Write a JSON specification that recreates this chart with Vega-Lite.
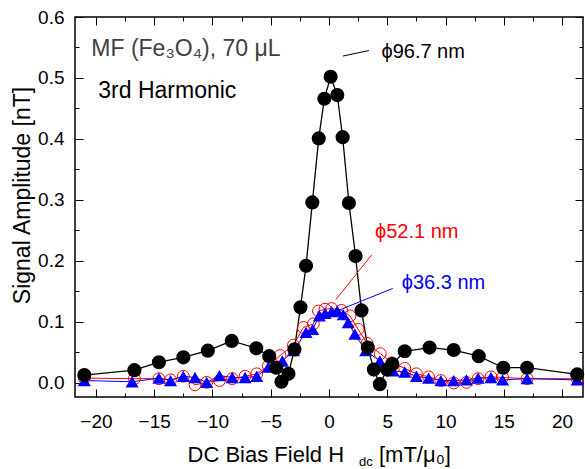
{
  "$schema": "https://vega.github.io/schema/vega-lite/v6.json",
  "width": 508,
  "height": 380,
  "autosize": {"type": "none"},
  "padding": {"left": 75, "top": 17, "right": 2, "bottom": 72},
  "background": "white",
  "config": {
    "view": {"stroke": "black", "strokeWidth": 1.5},
    "font": "Liberation Sans",
    "axis": {"grid": false, "domain": false, "tickColor": "black", "tickWidth": 1, "labelColor": "black", "labelFont": "Liberation Sans", "labelFontSize": 19, "labelOverlap": false, "labelFlush": false, "titleFont": "Liberation Sans", "titleFontWeight": "normal", "titleColor": "black"}
  },
  "datasets": {
    "pts": [
      {"series": "96.7 nm", "x": -21.0, "y": 0.013},
      {"series": "96.7 nm", "x": -16.7, "y": 0.021},
      {"series": "96.7 nm", "x": -14.6, "y": 0.034},
      {"series": "96.7 nm", "x": -12.5, "y": 0.042},
      {"series": "96.7 nm", "x": -10.4, "y": 0.053},
      {"series": "96.7 nm", "x": -8.35, "y": 0.069},
      {"series": "96.7 nm", "x": -6.24, "y": 0.057},
      {"series": "96.7 nm", "x": -5.13, "y": 0.044},
      {"series": "96.7 nm", "x": -4.53, "y": 0.025},
      {"series": "96.7 nm", "x": -4.08, "y": 0.002},
      {"series": "96.7 nm", "x": -3.48, "y": 0.015},
      {"series": "96.7 nm", "x": -2.97, "y": 0.055},
      {"series": "96.7 nm", "x": -2.45, "y": 0.124},
      {"series": "96.7 nm", "x": -1.97, "y": 0.192},
      {"series": "96.7 nm", "x": -1.43, "y": 0.296},
      {"series": "96.7 nm", "x": -0.88, "y": 0.401},
      {"series": "96.7 nm", "x": -0.4, "y": 0.466},
      {"series": "96.7 nm", "x": 0.14, "y": 0.502},
      {"series": "96.7 nm", "x": 0.71, "y": 0.472},
      {"series": "96.7 nm", "x": 1.17, "y": 0.403},
      {"series": "96.7 nm", "x": 1.71, "y": 0.295},
      {"series": "96.7 nm", "x": 2.28, "y": 0.208},
      {"series": "96.7 nm", "x": 2.79, "y": 0.119},
      {"series": "96.7 nm", "x": 3.33, "y": 0.058},
      {"series": "96.7 nm", "x": 3.85, "y": 0.022},
      {"series": "96.7 nm", "x": 4.36, "y": -0.002},
      {"series": "96.7 nm", "x": 4.99, "y": 0.022},
      {"series": "96.7 nm", "x": 5.44, "y": 0.031},
      {"series": "96.7 nm", "x": 6.5, "y": 0.052},
      {"series": "96.7 nm", "x": 8.63, "y": 0.058},
      {"series": "96.7 nm", "x": 10.7, "y": 0.054},
      {"series": "96.7 nm", "x": 12.85, "y": 0.044},
      {"series": "96.7 nm", "x": 14.96, "y": 0.025},
      {"series": "96.7 nm", "x": 17.0, "y": 0.025},
      {"series": "96.7 nm", "x": 21.3, "y": 0.014},
      {"series": "52.1 nm", "x": -21.0, "y": 0.008},
      {"series": "52.1 nm", "x": -16.7, "y": 0.007},
      {"series": "52.1 nm", "x": -14.6, "y": 0.007},
      {"series": "52.1 nm", "x": -13.6, "y": 0.005},
      {"series": "52.1 nm", "x": -12.5, "y": 0.011},
      {"series": "52.1 nm", "x": -11.5, "y": -0.003},
      {"series": "52.1 nm", "x": -10.5, "y": 0.001},
      {"series": "52.1 nm", "x": -9.4, "y": 0.004},
      {"series": "52.1 nm", "x": -8.3, "y": 0.007},
      {"series": "52.1 nm", "x": -7.2, "y": 0.011},
      {"series": "52.1 nm", "x": -6.2, "y": 0.015},
      {"series": "52.1 nm", "x": -5.2, "y": 0.028},
      {"series": "52.1 nm", "x": -4.2, "y": 0.045},
      {"series": "52.1 nm", "x": -3.05, "y": 0.062},
      {"series": "52.1 nm", "x": -2.2, "y": 0.091},
      {"series": "52.1 nm", "x": -1.34, "y": 0.097},
      {"series": "52.1 nm", "x": -0.9, "y": 0.118},
      {"series": "52.1 nm", "x": -0.34, "y": 0.121},
      {"series": "52.1 nm", "x": 0.23, "y": 0.122},
      {"series": "52.1 nm", "x": 1.08, "y": 0.119},
      {"series": "52.1 nm", "x": 1.8, "y": 0.11},
      {"series": "52.1 nm", "x": 2.5, "y": 0.088},
      {"series": "52.1 nm", "x": 3.27, "y": 0.065},
      {"series": "52.1 nm", "x": 4.4, "y": 0.048},
      {"series": "52.1 nm", "x": 5.4, "y": 0.033},
      {"series": "52.1 nm", "x": 6.5, "y": 0.024},
      {"series": "52.1 nm", "x": 7.5, "y": 0.015},
      {"series": "52.1 nm", "x": 8.55, "y": 0.01},
      {"series": "52.1 nm", "x": 9.6, "y": 0.004},
      {"series": "52.1 nm", "x": 10.7, "y": 0.0},
      {"series": "52.1 nm", "x": 11.8, "y": 0.001},
      {"series": "52.1 nm", "x": 12.8, "y": 0.007},
      {"series": "52.1 nm", "x": 13.9, "y": 0.01},
      {"series": "52.1 nm", "x": 14.9, "y": 0.009},
      {"series": "52.1 nm", "x": 17.0, "y": 0.007},
      {"series": "52.1 nm", "x": 21.3, "y": 0.007},
      {"series": "36.3 nm", "x": -21.0, "y": 0.004},
      {"series": "36.3 nm", "x": -16.9, "y": 0.002},
      {"series": "36.3 nm", "x": -14.6, "y": 0.008},
      {"series": "36.3 nm", "x": -13.6, "y": 0.004},
      {"series": "36.3 nm", "x": -12.5, "y": 0.011},
      {"series": "36.3 nm", "x": -11.5, "y": 0.009},
      {"series": "36.3 nm", "x": -10.5, "y": 0.001},
      {"series": "36.3 nm", "x": -9.4, "y": 0.012},
      {"series": "36.3 nm", "x": -8.3, "y": 0.009},
      {"series": "36.3 nm", "x": -7.2, "y": 0.009},
      {"series": "36.3 nm", "x": -6.2, "y": 0.011},
      {"series": "36.3 nm", "x": -5.2, "y": 0.026},
      {"series": "36.3 nm", "x": -4.0, "y": 0.036},
      {"series": "36.3 nm", "x": -3.05, "y": 0.053},
      {"series": "36.3 nm", "x": -1.97, "y": 0.083},
      {"series": "36.3 nm", "x": -1.4, "y": 0.088},
      {"series": "36.3 nm", "x": -0.83, "y": 0.11},
      {"series": "36.3 nm", "x": -0.34, "y": 0.114},
      {"series": "36.3 nm", "x": 0.23, "y": 0.117},
      {"series": "36.3 nm", "x": 0.71, "y": 0.118},
      {"series": "36.3 nm", "x": 1.22, "y": 0.112},
      {"series": "36.3 nm", "x": 1.65, "y": 0.099},
      {"series": "36.3 nm", "x": 2.22, "y": 0.08},
      {"series": "36.3 nm", "x": 3.15, "y": 0.053},
      {"series": "36.3 nm", "x": 4.36, "y": 0.036},
      {"series": "36.3 nm", "x": 5.5, "y": 0.02},
      {"series": "36.3 nm", "x": 6.5, "y": 0.018},
      {"series": "36.3 nm", "x": 7.5, "y": 0.011},
      {"series": "36.3 nm", "x": 8.55, "y": 0.008},
      {"series": "36.3 nm", "x": 9.6, "y": 0.004},
      {"series": "36.3 nm", "x": 10.7, "y": 0.004},
      {"series": "36.3 nm", "x": 11.8, "y": 0.005},
      {"series": "36.3 nm", "x": 12.8, "y": 0.008},
      {"series": "36.3 nm", "x": 13.9, "y": 0.009},
      {"series": "36.3 nm", "x": 14.9, "y": 0.005},
      {"series": "36.3 nm", "x": 17.0, "y": 0.007},
      {"series": "36.3 nm", "x": 21.3, "y": 0.005}
    ],
    "notes": [
      {"role": "sample", "label": "MF (Fe₃O₄), 70 μL", "x": -20.4, "y": 0.547},
      {"role": "harmonic", "label": "3rd Harmonic", "x": -19.8, "y": 0.478},
      {"role": "xtitle", "label": "DC Bias Field H", "x": 1.29, "y": -0.129},
      {"role": "xunit", "label": "[mT/μ₀]", "x": 4.29, "y": -0.129},
      {"role": "xsub", "label": "dc", "x": 2.58, "y": -0.136}
    ],
    "phis": [
      {"series": "96.7 nm", "label": "ϕ96.7 nm", "x": 4.5, "y": 0.543, "x1": 1.2, "y1": 0.536, "x2": 3.43, "y2": 0.545},
      {"series": "52.1 nm", "label": "ϕ52.1 nm", "x": 3.95, "y": 0.248, "x1": 0.6, "y1": 0.137, "x2": 3.67, "y2": 0.21},
      {"series": "36.3 nm", "label": "ϕ36.3 nm", "x": 6.24, "y": 0.164, "x1": 0.94, "y1": 0.12, "x2": 5.47, "y2": 0.155}
    ]
  },
  "resolve": {"axis": {"x": "independent", "y": "independent"}},
  "layer": [
    {
      "data": {"name": "pts"},
      "transform": [{"filter": {"field": "series", "equal": "52.1 nm"}}],
      "mark": {"type": "line", "color": "#ff0000", "strokeWidth": 1},
      "encoding": {
        "x": {"field": "x", "type": "quantitative", "scale": {"domain": [-21.8, 21.8], "nice": false, "zero": false},
          "axis": {"orient": "bottom", "title": null, "values": [-20, -17.5, -15, -12.5, -10, -7.5, -5, -2.5, 0, 2.5, 5, 7.5, 10, 12.5, 15, 17.5, 20],
            "labelExpr": "datum.value % 5 === 0 ? datum.label : ''",
            "tickSize": {"condition": {"test": "datum.value % 5 === 0", "value": -8}, "value": -4},
            "labelPadding": 23}},
        "y": {"field": "y", "type": "quantitative", "scale": {"domain": [-0.023, 0.6], "nice": false, "zero": false},
          "axis": {"orient": "left", "title": "Signal Amplitude [nT]", "titleFontSize": 23, "titleX": -53, "titleY": 178, "titleAlign": "center", "titleBaseline": "middle", "titleAngle": -90,
            "values": [0, 0.05, 0.1, 0.15, 0.2, 0.25, 0.3, 0.35, 0.4, 0.45, 0.5, 0.55, 0.6],
            "labelExpr": "round(datum.value*100) % 10 === 0 ? format(datum.value, '.1f') : ''",
            "tickSize": {"condition": {"test": "round(datum.value*100) % 10 === 0", "value": -8}, "value": -4},
            "labelPadding": 19}}
      }
    },
    {
      "data": {"name": "pts"},
      "transform": [{"filter": {"field": "series", "equal": "36.3 nm"}}],
      "mark": {"type": "line", "color": "#0000ff", "strokeWidth": 1},
      "encoding": {
        "x": {"field": "x", "type": "quantitative", "scale": {"domain": [-21.8, 21.8], "nice": false, "zero": false}, "axis": null},
        "y": {"field": "y", "type": "quantitative", "scale": {"domain": [-0.023, 0.6], "nice": false, "zero": false}, "axis": null}
      }
    },
    {
      "data": {"name": "pts"},
      "transform": [{"filter": {"field": "series", "equal": "96.7 nm"}}],
      "mark": {"type": "line", "color": "black", "strokeWidth": 1.3},
      "encoding": {
        "x": {"field": "x", "type": "quantitative", "scale": {"domain": [-21.8, 21.8], "nice": false, "zero": false}, "axis": null},
        "y": {"field": "y", "type": "quantitative", "scale": {"domain": [-0.023, 0.6], "nice": false, "zero": false}, "axis": null}
      }
    },
    {
      "data": {"name": "pts"},
      "transform": [{"filter": {"field": "series", "equal": "52.1 nm"}}],
      "mark": {"type": "point", "shape": "circle", "filled": false, "stroke": "#ff0000", "strokeWidth": 1, "size": 140, "opacity": 1},
      "encoding": {
        "x": {"field": "x", "type": "quantitative", "scale": {"domain": [-21.8, 21.8], "nice": false, "zero": false}, "axis": null},
        "y": {"field": "y", "type": "quantitative", "scale": {"domain": [-0.023, 0.6], "nice": false, "zero": false}, "axis": null}
      }
    },
    {
      "data": {"name": "pts"},
      "transform": [{"filter": {"field": "series", "equal": "36.3 nm"}}],
      "mark": {"type": "point", "shape": "triangle-up", "filled": true, "color": "#0000ff", "size": 170, "opacity": 1},
      "encoding": {
        "x": {"field": "x", "type": "quantitative", "scale": {"domain": [-21.8, 21.8], "nice": false, "zero": false}, "axis": null},
        "y": {"field": "y", "type": "quantitative", "scale": {"domain": [-0.023, 0.6], "nice": false, "zero": false}, "axis": null}
      }
    },
    {
      "data": {"name": "pts"},
      "transform": [{"filter": {"field": "series", "equal": "96.7 nm"}}],
      "mark": {"type": "point", "shape": "circle", "filled": true, "color": "black", "size": 200, "opacity": 1},
      "encoding": {
        "x": {"field": "x", "type": "quantitative", "scale": {"domain": [-21.8, 21.8], "nice": false, "zero": false}, "axis": null},
        "y": {"field": "y", "type": "quantitative", "scale": {"domain": [-0.023, 0.6], "nice": false, "zero": false}, "axis": null}
      }
    },
    {
      "data": {"name": "phis"},
      "mark": {"type": "rule", "strokeWidth": 1},
      "encoding": {
        "x": {"field": "x1", "type": "quantitative", "scale": {"domain": [-21.8, 21.8], "nice": false, "zero": false},
          "axis": {"orient": "top", "title": null, "labels": false, "values": [-20, -17.5, -15, -12.5, -10, -7.5, -5, -2.5, 0, 2.5, 5, 7.5, 10, 12.5, 15, 17.5, 20],
            "tickSize": {"condition": {"test": "datum.value % 5 === 0", "value": -8}, "value": -4}}},
        "y": {"field": "y1", "type": "quantitative", "scale": {"domain": [-0.023, 0.6], "nice": false, "zero": false},
          "axis": {"orient": "right", "title": null, "labels": false, "values": [0, 0.05, 0.1, 0.15, 0.2, 0.25, 0.3, 0.35, 0.4, 0.45, 0.5, 0.55, 0.6],
            "tickSize": {"condition": {"test": "round(datum.value*100) % 10 === 0", "value": -8}, "value": -4}}},
        "x2": {"field": "x2"},
        "y2": {"field": "y2"},
        "color": {"field": "series", "type": "nominal", "scale": {"domain": ["96.7 nm", "52.1 nm", "36.3 nm"], "range": ["black", "#ff0000", "#0000ff"]}, "legend": null}
      }
    },
    {
      "data": {"name": "phis"},
      "mark": {"type": "text", "align": "left", "baseline": "middle", "fontSize": 20, "font": "Liberation Sans"},
      "encoding": {
        "x": {"field": "x", "type": "quantitative", "scale": {"domain": [-21.8, 21.8], "nice": false, "zero": false}, "axis": null},
        "y": {"field": "y", "type": "quantitative", "scale": {"domain": [-0.023, 0.6], "nice": false, "zero": false}, "axis": null},
        "text": {"field": "label"},
        "color": {"field": "series", "type": "nominal", "scale": {"domain": ["96.7 nm", "52.1 nm", "36.3 nm"], "range": ["black", "#ff0000", "#0000ff"]}, "legend": null}
      }
    },
    {
      "data": {"name": "notes"},
      "transform": [{"filter": {"field": "role", "equal": "sample"}}],
      "mark": {"type": "text", "align": "left", "baseline": "middle", "fontSize": 23, "font": "Liberation Sans", "color": "#404040"},
      "encoding": {
        "x": {"field": "x", "type": "quantitative", "scale": {"domain": [-21.8, 21.8], "nice": false, "zero": false}, "axis": null},
        "y": {"field": "y", "type": "quantitative", "scale": {"domain": [-0.023, 0.6], "nice": false, "zero": false}, "axis": null},
        "text": {"field": "label"}
      }
    },
    {
      "data": {"name": "notes"},
      "transform": [{"filter": {"field": "role", "equal": "harmonic"}}],
      "mark": {"type": "text", "align": "left", "baseline": "middle", "fontSize": 23, "font": "Liberation Sans", "color": "black"},
      "encoding": {
        "x": {"field": "x", "type": "quantitative", "scale": {"domain": [-21.8, 21.8], "nice": false, "zero": false}, "axis": null},
        "y": {"field": "y", "type": "quantitative", "scale": {"domain": [-0.023, 0.6], "nice": false, "zero": false}, "axis": null},
        "text": {"field": "label"}
      }
    },
    {
      "data": {"name": "notes"},
      "transform": [{"filter": {"field": "role", "equal": "xtitle"}}],
      "mark": {"type": "text", "align": "right", "baseline": "alphabetic", "fontSize": 22, "font": "Liberation Sans", "color": "black"},
      "encoding": {
        "x": {"field": "x", "type": "quantitative", "scale": {"domain": [-21.8, 21.8], "nice": false, "zero": false}, "axis": null},
        "y": {"field": "y", "type": "quantitative", "scale": {"domain": [-0.023, 0.6], "nice": false, "zero": false}, "axis": null},
        "text": {"field": "label"}
      }
    },
    {
      "data": {"name": "notes"},
      "transform": [{"filter": {"field": "role", "equal": "xunit"}}],
      "mark": {"type": "text", "align": "left", "baseline": "alphabetic", "fontSize": 22, "font": "Liberation Sans", "color": "black"},
      "encoding": {
        "x": {"field": "x", "type": "quantitative", "scale": {"domain": [-21.8, 21.8], "nice": false, "zero": false}, "axis": null},
        "y": {"field": "y", "type": "quantitative", "scale": {"domain": [-0.023, 0.6], "nice": false, "zero": false}, "axis": null},
        "text": {"field": "label"}
      }
    },
    {
      "data": {"name": "notes"},
      "transform": [{"filter": {"field": "role", "equal": "xsub"}}],
      "mark": {"type": "text", "align": "left", "baseline": "alphabetic", "fontSize": 13, "font": "Liberation Sans", "color": "black"},
      "encoding": {
        "x": {"field": "x", "type": "quantitative", "scale": {"domain": [-21.8, 21.8], "nice": false, "zero": false}, "axis": null},
        "y": {"field": "y", "type": "quantitative", "scale": {"domain": [-0.023, 0.6], "nice": false, "zero": false}, "axis": null},
        "text": {"field": "label"}
      }
    }
  ]
}
